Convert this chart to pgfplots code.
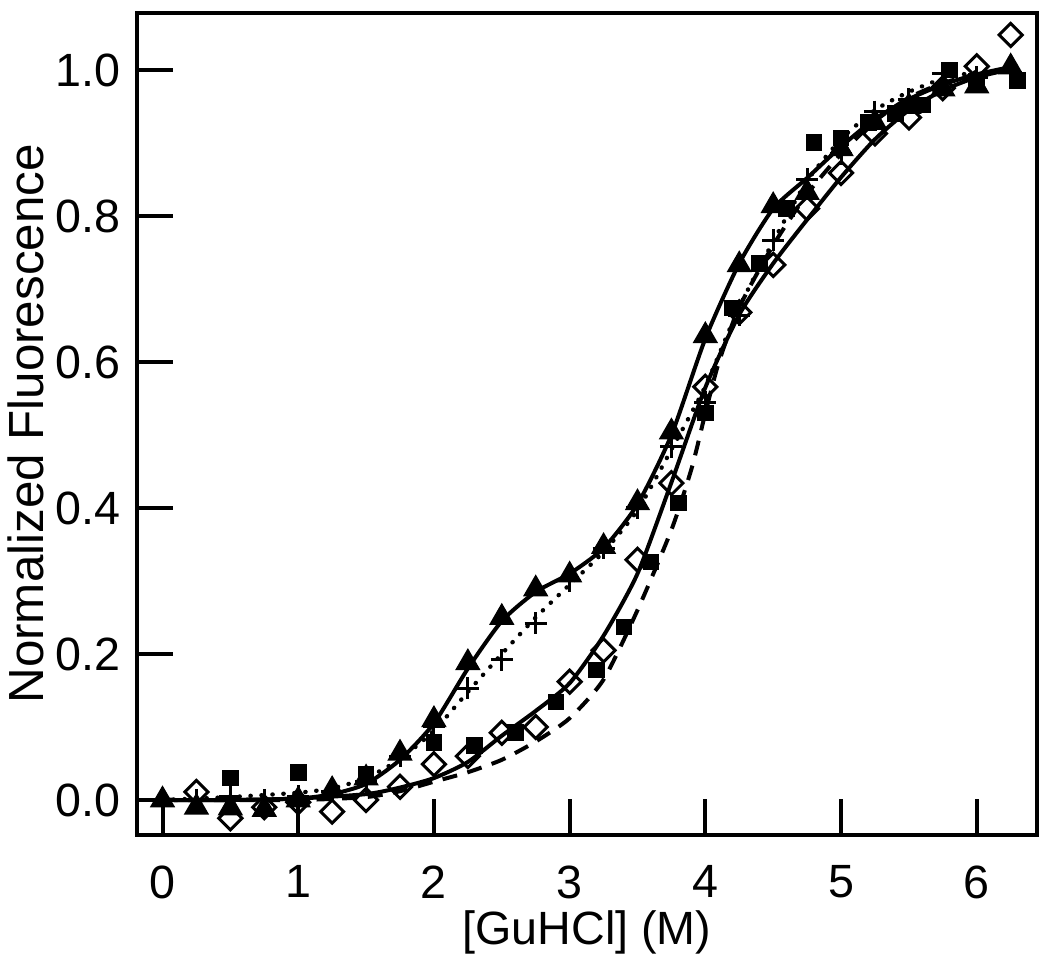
\documentclass[border=0pt]{standalone}
\usepackage{fontspec}
\setmainfont{Liberation Sans}
\usepackage{pgfplots}
\pgfplotsset{compat=1.18}

% marker data
\pgfplotstableread{
x y
0 0.000
0.25 -0.010
0.5 -0.011
0.75 -0.013
1.0 0.000
1.25 0.014
1.5 0.030
1.75 0.064
2.0 0.110
2.25 0.188
2.5 0.250
2.75 0.289
3.0 0.308
3.25 0.347
3.5 0.407
3.75 0.504
4.0 0.636
4.25 0.733
4.5 0.814
4.75 0.832
5.0 0.892
5.25 0.928
5.5 0.950
5.75 0.974
6.0 0.978
6.25 1.004
}\tri
\pgfplotstableread{
x y
0 0.000
0.25 0.000
0.5 0.005
0.75 0.000
1.0 0.005
1.25 0.012
1.5 0.025
1.75 0.060
2.0 0.100
2.25 0.153
2.5 0.192
2.75 0.242
3.0 0.300
3.25 0.345
3.5 0.400
3.75 0.484
4.0 0.545
4.25 0.664
4.5 0.767
4.75 0.850
5.0 0.885
5.25 0.943
5.5 0.960
5.75 0.995
6.0 0.990
6.25 0.996
}\plus
\pgfplotstableread{
x y
0.25 0.011
0.5 -0.025
0.75 -0.010
1.0 -0.003
1.25 -0.016
1.5 0.000
1.75 0.018
2.0 0.049
2.25 0.060
2.5 0.092
2.75 0.100
3.0 0.162
3.25 0.205
3.5 0.329
3.75 0.434
4.0 0.566
4.25 0.668
4.5 0.733
4.75 0.810
5.0 0.859
5.25 0.913
5.5 0.935
5.75 0.975
6.0 1.005
6.25 1.048
}\dia
\pgfplotstableread{
x y
0.5 0.030
1.0 0.038
1.5 0.035
2.0 0.079
2.3 0.075
2.6 0.092
2.9 0.134
3.2 0.178
3.4 0.237
3.6 0.326
3.8 0.407
4.0 0.530
4.2 0.674
4.4 0.735
4.6 0.810
4.8 0.901
5.0 0.907
5.2 0.928
5.4 0.940
5.6 0.952
5.8 1.000
6.0 0.985
6.3 0.986
}\sq

% fitted curves
\pgfplotstableread{
x y
0 0.000
0.5 0.000
1.0 0.002
1.25 0.008
1.5 0.022
1.75 0.055
2.0 0.105
2.25 0.180
2.5 0.245
2.75 0.285
3.0 0.310
3.25 0.345
3.5 0.405
3.75 0.500
4.0 0.632
4.25 0.735
4.5 0.810
4.75 0.852
5.0 0.895
5.25 0.933
5.5 0.960
5.75 0.980
6.0 0.994
6.3 1.006
}\fitA
\pgfplotstableread{
x y
0 0.000
0.5 0.004
1.0 0.010
1.25 0.016
1.5 0.030
1.75 0.056
2.0 0.095
2.25 0.148
2.5 0.200
2.75 0.250
3.0 0.295
3.25 0.340
3.5 0.397
3.75 0.480
4.0 0.567
4.25 0.675
4.5 0.765
4.75 0.848
5.0 0.905
5.25 0.945
5.5 0.970
5.75 0.988
6.0 0.997
6.3 1.000
}\fitB
\pgfplotstableread{
x y
0 0.000
1.0 0.000
1.5 0.004
1.75 0.012
2.0 0.025
2.25 0.038
2.5 0.055
2.75 0.080
3.0 0.112
3.25 0.165
3.5 0.260
3.75 0.370
3.9 0.455
4.0 0.530
4.1 0.600
4.25 0.675
4.5 0.760
4.75 0.830
5.0 0.885
5.25 0.930
5.5 0.962
5.75 0.982
6.0 0.994
6.3 1.000
}\fitC
\pgfplotstableread{
x y
0 0.000
0.5 0.000
1.0 0.002
1.5 0.008
1.75 0.017
2.0 0.030
2.25 0.052
2.5 0.088
2.75 0.122
3.0 0.160
3.25 0.225
3.5 0.310
3.75 0.435
4.0 0.565
4.25 0.665
4.5 0.735
4.75 0.795
5.0 0.853
5.25 0.905
5.5 0.945
5.75 0.972
6.0 0.990
6.3 1.003
}\fitD

\begin{document}
\fontsize{14}{17}\selectfont
\begin{tikzpicture}
\begin{axis}[
  scale only axis, width=270pt, height=246.7pt,
  xmin=-0.188, xmax=6.444, ymin=-0.048, ymax=1.0785,
  axis line style={line width=1.2pt},
  tick align=inside, xtick pos=left, ytick pos=left,
  major tick length=10.8pt,
  tick style={line width=1.2pt, black},
  xtick={0,1,2,3,4,5,6}, ytick={0,0.2,0.4,0.6,0.8,1.0},
  /pgf/number format/assume math mode=true,
  tick label style={font=\fontsize{14}{17}\selectfont},
  yticklabel style={/pgf/number format/.cd, fixed, fixed zerofill, precision=1},
  xticklabel style={yshift=-4.3pt},
  xlabel={[GuHCl] (M)}, ylabel={Normalized Fluorescence},
  xlabel style={font=\fontsize{14}{17}\selectfont, at={(axis description cs:0.5,-0.0722)}, anchor=north},
  ylabel style={font=\fontsize{14.8}{17}\selectfont, at={(axis description cs:-0.0848,0.5)}, anchor=south, rotate=0},
  clip=false,
]
\addplot[black, line width=1.2pt, smooth, tension=0.4] table {\fitA};
\addplot[black, line width=1.3pt, dash pattern=on 0.1pt off 3.2pt, line cap=round, smooth, tension=0.4] table {\fitB};
\addplot[black, line width=1.2pt, dash pattern=on 4.5pt off 3.2pt, smooth, tension=0.4] table {\fitC};
\addplot[black, line width=1.2pt, smooth, tension=0.4] table {\fitD};

\addplot[only marks, mark=square*, mark size=2.3pt, black] table {\sq};
\addplot[only marks, mark=square, mark size=2.45pt, mark options={rotate=45, fill=white, line width=0.9pt}, black] table {\dia};
\addplot[only marks, mark=+, mark size=3.3pt, mark options={line width=0.9pt}, black] table {\plus};
\addplot[only marks, mark=triangle*, mark size=4pt, black] table {\tri};
\end{axis}
\pgfresetboundingbox
\path (-41.1pt,-38.7pt) rectangle (273.9pt,250.5pt);
\end{tikzpicture}
\end{document}
